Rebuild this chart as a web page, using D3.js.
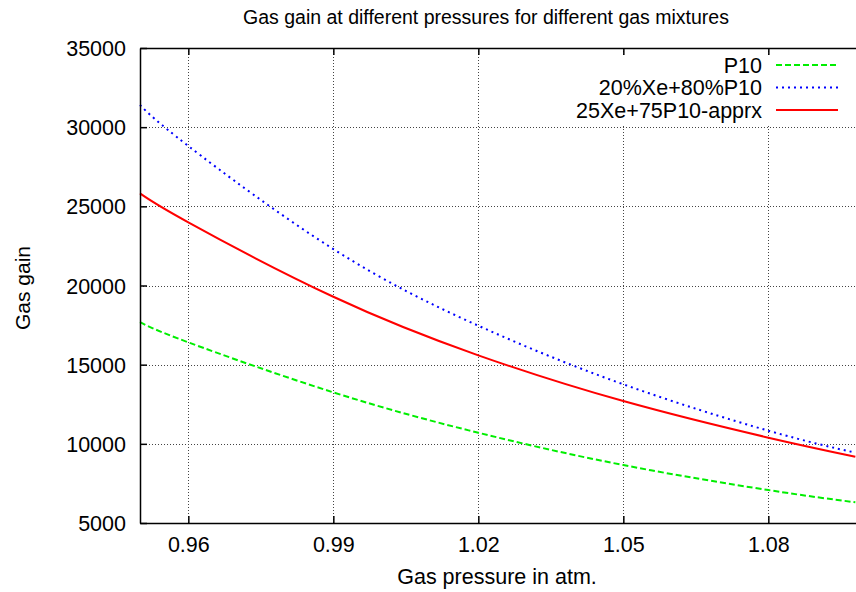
<!DOCTYPE html>
<html>
<head>
<meta charset="utf-8">
<script src="https://cdn.jsdelivr.net/npm/d3@7"></script>
<style>
  html, body { margin: 0; padding: 0; background: #fff; }
  svg { display: block; font-family: "Liberation Sans", Arial, Helvetica, sans-serif; }
</style>
</head>
<body>
<svg id="chart" width="856" height="592"></svg>
<script>
// Gas pressure (atm) at which gain was sampled
const pressure = [0.95, 0.96, 0.99, 1.02, 1.05, 1.08, 1.098];

// Gas gain for each mixture
const gainP10      = [17680, 16410, 13250, 10700, 8660, 7080, 6310];
const gainXe20P10  = [31400, 28810, 22300, 17460, 13760, 10830, 9440];
const gainXe25Appr = [25820, 23990, 19290, 15590, 12700, 10390, 9190];

const seriesNames  = ["P10", "20%Xe+80%P10", "25Xe+75P10-apprx"];
const seriesValues = [gainP10, gainXe20P10, gainXe25Appr];
const seriesColors = ["#00ee00", "#0000ff", "#ff0000"];
const seriesDash   = ["6,3", "2,4", null];

const xTicks = [0.96, 0.99, 1.02, 1.05, 1.08];
const yTicks = [5000, 10000, 15000, 20000, 25000, 30000, 35000];

const titleText = "Gas gain at different pressures for different gas mixtures";
const xLabel = "Gas pressure in atm.";
const yLabel = "Gas gain";

const svg = d3.select("#chart");
const plotLeft = 140, plotTop = 48, plotBottom = 523;

const x = d3.scaleLinear().domain([0.95, 1.1]).range([plotLeft, 865]);
const y = d3.scaleLinear().domain([5000, 35000]).range([plotBottom, plotTop]);

// grid
const grid = svg.append("g").attr("stroke", "#444").attr("stroke-width", 1)
  .attr("stroke-dasharray", "1,2").attr("fill", "none");
grid.selectAll("line.v").data(xTicks).join("line")
  .attr("x1", d => Math.round(x(d)) + 0.5).attr("x2", d => Math.round(x(d)) + 0.5)
  .attr("y1", plotTop).attr("y2", plotBottom);
grid.selectAll("line.h").data(yTicks.slice(1, -1)).join("line")
  .attr("y1", d => Math.round(y(d)) + 0.5).attr("y2", d => Math.round(y(d)) + 0.5)
  .attr("x1", plotLeft).attr("x2", 856);

// key background hides the grid behind the legend
svg.append("rect").attr("x", 540).attr("y", 55).attr("width", 320).attr("height", 69)
  .attr("fill", "#fff");

// curves
const plot = svg.append("g");
seriesValues.forEach((vals, i) => {
  const pts = pressure.map((p, j) => [p, vals[j]]);
  plot.append("path")
    .datum(pts)
    .attr("fill", "none")
    .attr("stroke", seriesColors[i])
    .attr("stroke-width", 2)
    .attr("stroke-dasharray", seriesDash[i])
    .attr("d", d3.line().x(d => x(d[0])).y(d => y(d[1])).curve(d3.curveNatural));
});

// axes
const xAxis = d3.axisBottom(x).tickValues(xTicks).tickSize(-7).tickSizeOuter(0)
  .tickFormat(d3.format(".2f")).tickPadding(14);
const gx = svg.append("g").attr("transform", `translate(0,${plotBottom})`).call(xAxis);
const xTopAxis = d3.axisTop(x).tickValues(xTicks).tickSize(-7).tickSizeOuter(0).tickFormat("");
const gxt = svg.append("g").attr("transform", `translate(0,${plotTop})`).call(xTopAxis);
const yAxis = d3.axisLeft(y).tickValues(yTicks).tickSize(-7).tickSizeOuter(0)
  .tickFormat(d3.format("d")).tickPadding(14);
const gy = svg.append("g").attr("transform", `translate(${plotLeft},0)`).call(yAxis);

[gx, gxt, gy].forEach(g => {
  g.select(".domain").attr("stroke", "#000").attr("stroke-width", 1.5);
  g.selectAll(".tick line").attr("stroke", "#000").attr("stroke-width", 1.5);
  g.selectAll(".tick text").attr("fill", "#000").attr("font-size", 21.5)
    .attr("font-family", "Liberation Sans, Arial, sans-serif");
});
gy.selectAll(".tick text").attr("dy", "0.35em");

// titles
svg.append("text").attr("x", 486).attr("y", 24).attr("text-anchor", "middle")
  .attr("font-size", 19.5).text(titleText);
svg.append("text").attr("x", 497).attr("y", 584).attr("text-anchor", "middle")
  .attr("font-size", 21.5).text(xLabel);
svg.append("text").attr("transform", "translate(30,288) rotate(-90)")
  .attr("text-anchor", "middle").attr("font-size", 21).text(yLabel);

// key
const key = svg.append("g");
seriesNames.forEach((name, i) => {
  const ry = 65 + i * 22.5;
  key.append("text").attr("x", 762).attr("y", ry).attr("dy", "0.35em")
    .attr("text-anchor", "end").attr("font-size", 21.5).text(name);
  key.append("line").attr("x1", 776).attr("x2", 838).attr("y1", ry).attr("y2", ry)
    .attr("stroke", seriesColors[i]).attr("stroke-width", 2)
    .attr("stroke-dasharray", seriesDash[i]);
});
</script>
</body>
</html>
